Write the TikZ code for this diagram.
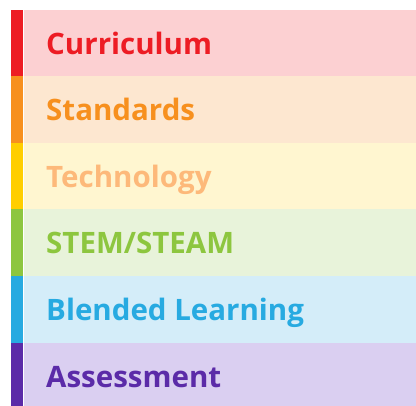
\documentclass[tikz,border=0pt]{standalone}
\usepackage{fontspec}
\setmainfont{Open Sans}
\definecolor{barA}{HTML}{ED1C24}\definecolor{bandA}{HTML}{FCD0D2}\definecolor{txtA}{HTML}{ED1C24}
\definecolor{barB}{HTML}{F7901E}\definecolor{bandB}{HTML}{FDE7D0}\definecolor{txtB}{HTML}{F7901E}
\definecolor{barC}{HTML}{FFCE00}\definecolor{bandC}{HTML}{FFF6D0}\definecolor{txtC}{HTML}{FDB97A}
\definecolor{barD}{HTML}{8DC63F}\definecolor{bandD}{HTML}{E8F3DA}\definecolor{txtD}{HTML}{8DC63F}
\definecolor{barE}{HTML}{27AAE1}\definecolor{bandE}{HTML}{D4EDF9}\definecolor{txtE}{HTML}{27AAE1}
\definecolor{barF}{HTML}{5B2BA8}\definecolor{bandF}{HTML}{DACFF1}\definecolor{txtF}{HTML}{5B2BA8}
\tikzset{
  label/.style={anchor=base west,inner sep=0pt,font=\fontsize{29.5}{31}\selectfont\bfseries}
}
\begin{document}
\begin{tikzpicture}[x=1pt,y=-1pt]
\useasboundingbox (0,0) rectangle (416,406);
\fill[white] (0,0) rectangle (416,406);
\foreach \k/\t/\b/\name/\txt in {A/10/76/r1/Curriculum,B/76/143/r2/Standards,C/143/209/r3/Technology,D/209/276/r4/STEM\slash STEAM,E/276/343/r5/Blended Learning,F/343/406/r6/Assessment}{
  \fill[bar\k] (11,\t) rectangle (23,\b);
  \fill[band\k] (24,\t) rectangle (416,\b);
  \node[label,text=txt\k] (\name) at (46,\t+45) {\txt};
}
\end{tikzpicture}
\end{document}
